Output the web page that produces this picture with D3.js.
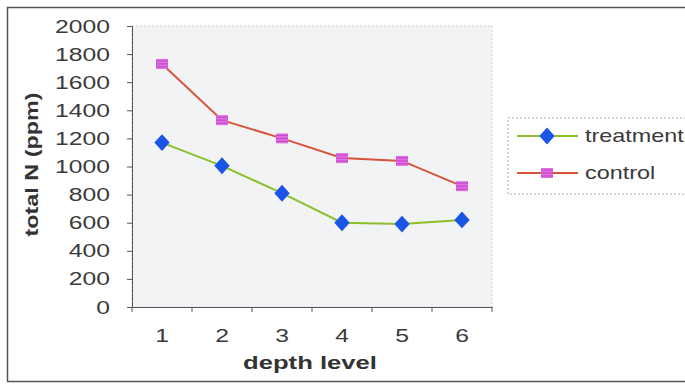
<!DOCTYPE html>
<html>
<head>
<meta charset="utf-8">
<script src="https://cdn.jsdelivr.net/npm/d3@7"></script>
<style>
  body { margin: 0; background: #fff; }
  text { font-family: "Liberation Sans", Arial, sans-serif; }
</style>
</head>
<body>
<div id="mainChart"></div>
<script>
const depths = [1, 2, 3, 4, 5, 6];
const treatment = [1170, 1005, 810, 600, 590, 620];
const control = [1730, 1330, 1200, 1060, 1040, 860];
const yTicks = [0, 200, 400, 600, 800, 1000, 1200, 1400, 1600, 1800, 2000];
const seriesNames = ['treatment', 'control'];

const W = 685, H = 385;
const plot = { left: 132, right: 492, top: 26, bottom: 307 };
const STRETCH = 1.3;  // the scanned text is wide

const svg = d3.select('#mainChart').append('svg')
  .attr('width', W).attr('height', H);

// outer chart frame
svg.append('rect')
  .attr('x', 7.5).attr('y', 7.5).attr('width', W + 10).attr('height', 374)
  .attr('fill', '#fff').attr('stroke', '#555').attr('stroke-width', 1.5);

const x = d3.scaleBand().domain(depths).range([plot.left, plot.right]);
const y = d3.scaleLinear().domain([0, 2000]).range([plot.bottom, plot.top]);

// plot area
svg.append('rect')
  .attr('x', plot.left).attr('y', plot.top)
  .attr('width', plot.right - plot.left).attr('height', plot.bottom - plot.top)
  .attr('fill', '#f1f3f5').attr('stroke', '#c8ccd0').attr('stroke-dasharray', '2,2');

const yAxis = svg.append('g')
  .attr('transform', `translate(${plot.left},0)`)
  .call(d3.axisLeft(y).tickValues(yTicks).tickFormat(d3.format('d')).tickSize(5).tickPadding(12));
yAxis.select('.domain').attr('stroke', '#555');
yAxis.selectAll('line').attr('stroke', '#555');
yAxis.selectAll('text').attr('font-size', 19).attr('fill', '#3a3a3a')
  .attr('transform', `scale(${STRETCH},1)`);

const xAxis = svg.append('g')
  .attr('transform', `translate(0,${plot.bottom})`)
  .call(d3.axisBottom(x).tickSize(0).tickPadding(22));
xAxis.select('.domain').attr('stroke', '#556');
xAxis.selectAll('text').attr('font-size', 19).attr('fill', '#3a3a3a')
  .attr('transform', `scale(${STRETCH},1)`);
// tick marks between categories
svg.append('g').selectAll('line')
  .data(d3.range(depths.length + 1))
  .join('line')
  .attr('x1', i => plot.left + i * x.step()).attr('x2', i => plot.left + i * x.step())
  .attr('y1', plot.bottom).attr('y2', plot.bottom + 5)
  .attr('stroke', '#555');

svg.append('text')
  .attr('transform', `translate(38,${(plot.top + plot.bottom) / 2 - 2}) rotate(-90) scale(${STRETCH},1)`)
  .attr('text-anchor', 'middle')
  .attr('font-size', 18).attr('font-weight', 'bold').attr('fill', '#333')
  .text('total N (ppm)');

svg.append('text')
  .attr('transform', `translate(${(plot.left + plot.right) / 2 - 2},369) scale(${STRETCH + 0.05},1)`)
  .attr('text-anchor', 'middle')
  .attr('font-size', 19).attr('font-weight', 'bold').attr('fill', '#333')
  .text('depth level');

const cx = d => x(d) + x.bandwidth() / 2;
const line = d3.line().x((v, i) => cx(depths[i])).y(v => y(v));

const diamond = d3.symbol().type(d3.symbolDiamond2).size(150);
const drawControlMarker = (g, px, py) => {
  g.append('rect').attr('x', px - 6).attr('y', py - 5).attr('width', 12).attr('height', 10)
    .attr('fill', '#e070e0');
  [-3, 0, 3].forEach(o => g.append('line')
    .attr('x1', px - 6).attr('x2', px + 6).attr('y1', py + o).attr('y2', py + o)
    .attr('stroke', '#c040c8').attr('stroke-width', 1));
};

// treatment
svg.append('path').attr('d', line(treatment))
  .attr('fill', 'none').attr('stroke', '#8cbf2a').attr('stroke-width', 2);
svg.append('g').selectAll('path').data(treatment).join('path')
  .attr('d', diamond)
  .attr('transform', (v, i) => `translate(${cx(depths[i])},${y(v)}) scale(1,1.1)`)
  .attr('fill', '#1a55e8');

// control
svg.append('path').attr('d', line(control))
  .attr('fill', 'none').attr('stroke', '#d9533a').attr('stroke-width', 2);
const cg = svg.append('g');
control.forEach((v, i) => drawControlMarker(cg, cx(depths[i]), y(v)));

// legend
const lg = svg.append('g');
lg.append('rect').attr('x', 508).attr('y', 118).attr('width', 200).attr('height', 76)
  .attr('fill', '#fff').attr('stroke', '#aaa').attr('stroke-dasharray', '2,2');
const legendY = [136, 173];
const legendColors = ['#8cbf2a', '#d9533a'];
seriesNames.forEach((name, i) => {
  lg.append('line').attr('x1', 517).attr('x2', 578)
    .attr('y1', legendY[i]).attr('y2', legendY[i])
    .attr('stroke', legendColors[i]).attr('stroke-width', 2);
  if (i === 0) {
    lg.append('path').attr('d', diamond)
      .attr('transform', `translate(547,${legendY[i]}) scale(1,1.1)`)
      .attr('fill', '#1a55e8');
  } else {
    drawControlMarker(lg, 547, legendY[i]);
  }
  lg.append('text')
    .attr('transform', `translate(585,${legendY[i] + 6}) scale(${STRETCH},1)`)
    .attr('font-size', 18).attr('fill', '#3a3a3a').text(name);
});
</script>
</body>
</html>
